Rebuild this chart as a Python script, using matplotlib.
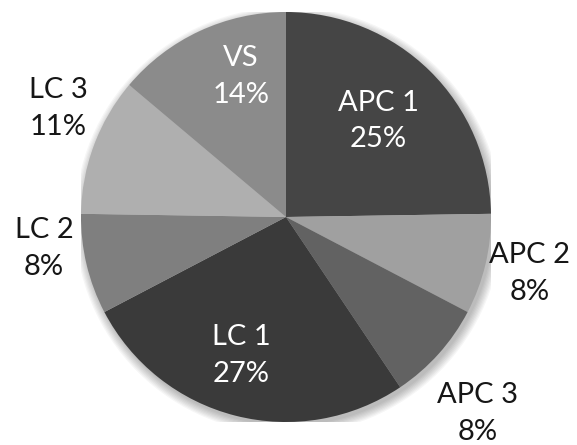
import numpy as np
import matplotlib
matplotlib.use("Agg")
import matplotlib.pyplot as plt

labels = ["APC 1", "APC 2", "APC 3", "LC 1", "LC 2", "LC 3", "VS"]
values = [25, 8, 8, 27, 8, 11, 14]
colors = ["#454545", "#a0a0a0", "#626262", "#3a3a3a", "#7f7f7f", "#afafaf", "#8b8b8b"]

# label placement: distance from centre (in pie radii), angular nudge (deg)
label_radius = [0.65, 1.22, 1.34, 0.71, 1.19, 1.23, 0.72]
label_nudge = [0.8, 0.3, -3.8, -3.7, -5.9, -5.0, -7.2]
inside = [True, False, False, True, False, False, True]

W, H, DPI = 577, 445, 100
fig = plt.figure(figsize=(W / DPI, H / DPI), dpi=DPI)
fig.patch.set_facecolor("white")

cx, cy, r = 286, 217, 205
ax = fig.add_axes([(cx - r) / W, (H - cy - r) / H, 2 * r / W, 2 * r / H])
ax.set_aspect("equal")
ax.axis("off")

# soft drop shadow under the pie
for k in range(8):
    s = plt.Circle((0.012, -0.018), 1.0 + 0.006 * k, color="black",
                   alpha=0.035, lw=0, zorder=0)
    ax.add_patch(s)

wedges, _ = ax.pie(values, colors=colors, startangle=90, counterclock=False,
                   radius=1.0, wedgeprops=dict(linewidth=0), frame=False)
for w in wedges:
    w.set_zorder(1)
ax.set_xlim(-1, 1)
ax.set_ylim(-1, 1)

for w, lab, v, rr, nd, ins in zip(wedges, labels, values, label_radius,
                                  label_nudge, inside):
    ang = np.deg2rad((w.theta1 + w.theta2) / 2 + nd)
    x, y = rr * np.cos(ang), rr * np.sin(ang)
    ax.text(x, y, f"{lab}\n{v}%", ha="center", va="center",
            fontsize=21, family=["Lato", "DejaVu Sans"],
            color="white" if ins else "#161616", linespacing=1.5,
            zorder=3, clip_on=False)

fig.savefig("out.png", dpi=DPI, facecolor="white")
